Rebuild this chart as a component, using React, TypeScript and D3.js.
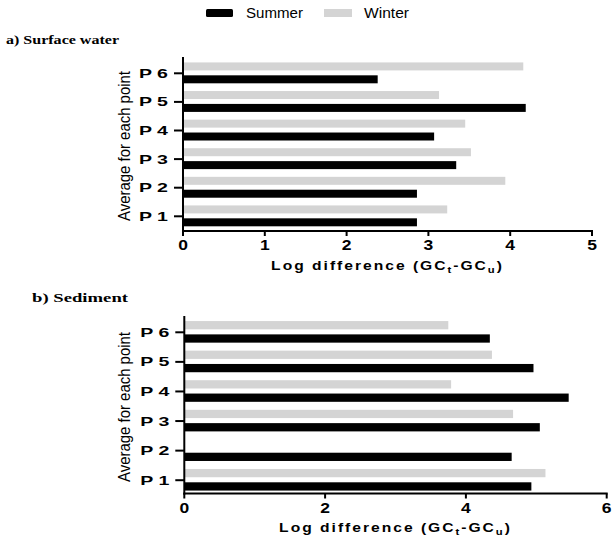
import React from "react";
import * as d3 from "d3";

const categories = ["P 1", "P 2", "P 3", "P 4", "P 5", "P 6"];
const seasons = ["Winter", "Summer"];

const waterSummer = [2.86, 2.86, 3.34, 3.07, 4.19, 2.38];
const waterWinter = [3.23, 3.94, 3.52, 3.45, 3.13, 4.16];

const sedimentSummer = [4.93, 4.65, 5.05, 5.46, 4.96, 4.34];
const sedimentWinter: (number | null)[] = [5.13, null, 4.67, 3.79, 4.37, 3.75];

const waterTicks = [0, 1, 2, 3, 4, 5];
const sedimentTicks = [0, 2, 4, 6];

const COLORS: Record<string, string> = { Summer: "#000000", Winter: "#d4d4d4" };
const SANS = "'Liberation Sans', Arial, Helvetica, sans-serif";
const SERIF = "'Liberation Serif', 'Times New Roman', serif";

type PanelProps = {
  title: string;
  titleX: number;
  titleY: number;
  titleLen: number;
  summer: (number | null)[];
  winter: (number | null)[];
  ticks: number[];
  xMax: number;
  x0: number;
  x1: number;
  yTop: number;
  yBandTop: number;
  yBandBottom: number;
  axisY: number;
  yTitleY: number;
};

function Panel(p: PanelProps) {
  const x = d3.scaleLinear().domain([0, p.xMax]).range([p.x0, p.x1]);
  const y = d3
    .scaleBand<string>()
    .domain([...categories].reverse())
    .range([p.yBandTop, p.yBandBottom])
    .padding(0);
  const bw = y.bandwidth();
  const inner = d3
    .scaleBand<string>()
    .domain(seasons)
    .range([bw * 0.12, bw * 0.85])
    .paddingInner(0.38);

  const series: Record<string, (number | null)[]> = { Summer: p.summer, Winter: p.winter };

  return (
    <g>
      <text
        x={p.titleX}
        y={p.titleY}
        fontFamily={SERIF}
        fontWeight="bold"
        fontSize={11.5}
        textLength={p.titleLen}
        lengthAdjust="spacingAndGlyphs"
      >
        {p.title}
      </text>

      {/* bars */}
      {categories.map((c, i) =>
        seasons.map((s) => {
          const v = series[s][i];
          if (v == null) return null;
          return (
            <rect
              key={c + s}
              x={x(0)}
              y={(y(c) as number) + (inner(s) as number)}
              width={x(v) - x(0)}
              height={inner.bandwidth()}
              fill={COLORS[s]}
            />
          );
        })
      )}

      {/* y axis */}
      <line x1={p.x0} x2={p.x0} y1={p.yTop} y2={p.axisY + 1} stroke="#000" strokeWidth={2} />
      {categories.map((c) => {
        const cy = (y(c) as number) + bw / 2;
        return (
          <g key={c}>
            <line x1={p.x0 - 9} x2={p.x0} y1={cy} y2={cy} stroke="#000" strokeWidth={2} />
            <text
              x={p.x0 - 15}
              y={cy + 4.5}
              textAnchor="end"
              fontFamily={SANS}
              fontWeight="bold"
              fontSize={12.5}
              textLength={29}
              lengthAdjust="spacingAndGlyphs"
            >
              {c}
            </text>
          </g>
        );
      })}
      <text
        transform={`translate(130,${p.yTitleY}) rotate(-90)`}
        textAnchor="middle"
        fontFamily={SANS}
        fontSize={17}
        textLength={150}
        lengthAdjust="spacingAndGlyphs"
      >
        Average for each point
      </text>

      {/* x axis */}
      <line x1={p.x0 - 1} x2={p.x1 + 1} y1={p.axisY} y2={p.axisY} stroke="#000" strokeWidth={2} />
      {p.ticks.map((t) => (
        <g key={t}>
          <line x1={x(t)} x2={x(t)} y1={p.axisY} y2={p.axisY + 5} stroke="#000" strokeWidth={2} />
          <text
            transform={`translate(${x(t)},${p.axisY + 19}) scale(1.25,1)`}
            textAnchor="middle"
            fontFamily={SANS}
            fontWeight="bold"
            fontSize={14}
          >
            {t}
          </text>
        </g>
      ))}
      <text
        transform={`translate(${(p.x0 + p.x1) / 2},${p.axisY + 38.5}) scale(1.25,1)`}
        textAnchor="middle"
        fontFamily={SANS}
        fontWeight="bold"
        fontSize={12.5}
        letterSpacing={1.6}
      >
        Log difference (GC
        <tspan fontSize={9} dy={3}>t</tspan>
        <tspan dy={-3}>-GC</tspan>
        <tspan fontSize={9} dy={3}>u</tspan>
        <tspan dy={-3}>)</tspan>
      </text>
    </g>
  );
}

export default function App() {
  return (
    <svg
      width={613}
      height={540}
      style={{ position: "absolute", left: 0, top: 0, background: "#fff" }}
    >
      {/* legend */}
      <g fontFamily={SANS} fontSize={14}>
        <rect x={206} y={9} width={27} height={8} rx={1.5} fill={COLORS.Summer} />
        <text x={246} y={18} textLength={57} lengthAdjust="spacingAndGlyphs">Summer</text>
        <rect x={324} y={9} width={28} height={8} fill={COLORS.Winter} />
        <text x={364} y={18} textLength={45} lengthAdjust="spacingAndGlyphs">Winter</text>
      </g>

      <Panel
        title="a) Surface water"
        titleX={6}
        titleY={44}
        titleLen={113}
        summer={waterSummer}
        winter={waterWinter}
        ticks={waterTicks}
        xMax={5}
        x0={183}
        x1={592}
        yTop={57}
        yBandTop={59}
        yBandBottom={230.6}
        axisY={231}
        yTitleY={146}
      />
      <Panel
        title="b) Sediment"
        titleX={32}
        titleY={302}
        titleLen={96}
        summer={sedimentSummer}
        winter={sedimentWinter}
        ticks={sedimentTicks}
        xMax={6}
        x0={184.3}
        x1={606.7}
        yTop={316}
        yBandTop={317.5}
        yBandBottom={495}
        axisY={493.5}
        yTitleY={407}
      />
    </svg>
  );
}
